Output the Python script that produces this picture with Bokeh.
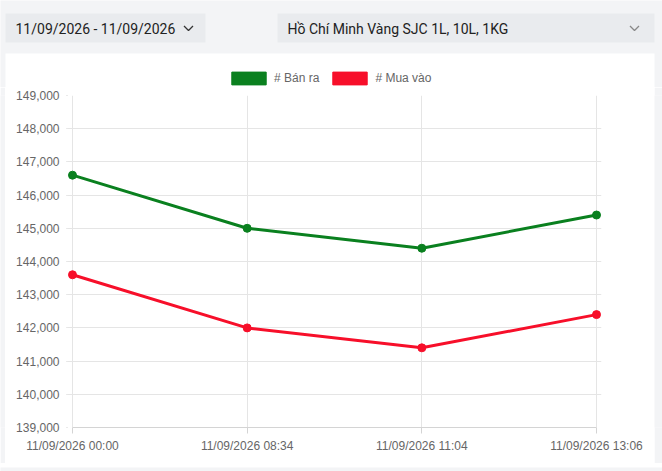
from bokeh.plotting import figure
from bokeh.layouts import column, row
from bokeh.models import (Range1d, FixedTicker, SingleIntervalTicker, NumeralTickFormatter,
                          Legend, LegendItem, ColumnDataSource)
from bokeh.core.properties import value
from bokeh.embed import file_html
from bokeh.resources import INLINE

# ---- data ----
time_labels = ["11/09/2026 00:00", "11/09/2026 08:34", "11/09/2026 11:04", "11/09/2026 13:06"]
ban_ra = [146600, 145000, 144400, 145400]
mua_vao = [143600, 142000, 141400, 142400]
series_names = ["# Bán ra", "# Mua vào"]
date_range_text = "11/09/2026 - 11/09/2026"
location_text = "Hồ Chí Minh Vàng SJC 1L, 10L, 1KG"
y_min, y_max, y_step = 139000, 149000, 1000

GREEN = "#0a801f"
RED = "#f70f2a"
PAGE_BG = "#f3f4f6"
BOX_BG = "#e9ebee"
GRID = "#e5e5e5"
AXIS = "#d4d4d4"
TXT = "#666666"

W, H = 662, 471
HDR_H = 87
BOT_H = 8
MID_H = H - HDR_H - BOT_H
LSP, RSP = 5, 8
CH_W = W - LSP - RSP


def blank(w, h, xr=None, yr=None, bg=PAGE_BG):
    kw = {}
    if xr is not None:
        kw["x_range"] = xr
    if yr is not None:
        kw["y_range"] = yr
    f = figure(width=w, height=h, output_backend="svg", toolbar_location=None,
               x_axis_type=None, y_axis_type=None, min_border=0, **kw)
    f.background_fill_color = bg
    f.border_fill_color = bg
    f.outline_line_color = None
    f.grid.visible = False
    return f


# ---- header: selectors + top of card + legend ----
hdr = blank(W, HDR_H, Range1d(0, W), Range1d(HDR_H, 0))
hdr.quad(left=[5, 5, 277], right=[654, 205, 654], top=[53, 13, 13], bottom=[HDR_H, 42, 42],
         fill_color=["white", BOX_BG, BOX_BG], line_color=None)
hdr.text(x=[15, 287], y=[28, 28], text=[date_range_text, location_text],
         text_font=value("Roboto"), text_font_size=value("14px"), text_color="#222222",
         text_baseline="middle", text_align="left")
hdr.multi_line(xs=[[183.5, 188, 192.5], [629.5, 634, 638.5]],
               ys=[[25.5, 30, 25.5], [25.5, 30, 25.5]],
               line_color=["#333333", "#888888"], line_width=1.3)

# legend swatches (rect glyphs placed outside the visible header range)
leg_g = hdr.rect(x=[-500], y=[-500], width=1, height=1, fill_color=GREEN, line_color=GREEN)
leg_r = hdr.rect(x=[-500], y=[-500], width=1, height=1, fill_color=RED, line_color=RED)
legend = Legend(items=[LegendItem(label=series_names[0], renderers=[leg_g]),
                       LegendItem(label=series_names[1], renderers=[leg_r])],
                orientation="horizontal", location=(227, 1),
                glyph_width=43, glyph_height=16, label_height=16, label_width=10,
                label_standoff=4, spacing=9, padding=0, margin=0,
                border_line_color=None, background_fill_alpha=0,
                label_text_font="Liberation Sans", label_text_font_size="12px",
                label_text_color=TXT)
hdr.add_layout(legend, "center")

# ---- chart ----
x_idx = list(range(len(time_labels)))
pad = 0.0286

p = figure(width=CH_W, height=MID_H, output_backend="svg", toolbar_location=None,
           x_range=Range1d(x_idx[0] - pad, x_idx[-1] + pad), y_range=Range1d(y_min, y_max),
           min_border_left=62, min_border_right=53, min_border_top=8, min_border_bottom=36)
p.border_fill_color = "white"
p.background_fill_color = "white"
p.outline_line_color = None

p.xaxis.ticker = FixedTicker(ticks=x_idx)
p.xaxis.major_label_overrides = {i: t for i, t in zip(x_idx, time_labels)}
p.xaxis.bounds = (x_idx[0], x_idx[-1])
p.yaxis.ticker = SingleIntervalTicker(interval=y_step)
p.yaxis.formatter = NumeralTickFormatter(format="0,0")
p.xgrid.ticker = FixedTicker(ticks=x_idx)
p.ygrid.ticker = SingleIntervalTicker(interval=y_step)

for ax in (p.xaxis[0], p.yaxis[0]):
    ax.axis_line_color = AXIS
    ax.major_tick_line_color = AXIS
    ax.major_tick_in = 0
    ax.minor_tick_line_color = None
    ax.major_label_text_font = "Liberation Sans"
    ax.major_label_text_font_size = "12px"
    ax.major_label_text_color = TXT
p.xaxis.major_tick_out = 6
p.xaxis.major_label_standoff = 5
p.yaxis.axis_line_color = None
p.yaxis.major_tick_out = 1
p.yaxis.major_label_standoff = 4

p.xgrid.grid_line_color = GRID
p.ygrid.grid_line_color = GRID

src = ColumnDataSource(dict(x=x_idx, ban=ban_ra, mua=mua_vao))
p.line("x", "ban", source=src, line_color=GREEN, line_width=3)
p.scatter("x", "ban", source=src, size=8, fill_color=GREEN, line_color=GREEN)
p.line("x", "mua", source=src, line_color=RED, line_width=3)
p.scatter("x", "mua", source=src, size=8, fill_color=RED, line_color=RED)

left_sp = blank(LSP, MID_H)
right_sp = blank(RSP, MID_H)
bottom = blank(W, BOT_H)

layout = column(hdr, row(left_sp, p, right_sp, spacing=0), bottom, spacing=0)

open("out.html", "w").write(file_html(layout, INLINE))
